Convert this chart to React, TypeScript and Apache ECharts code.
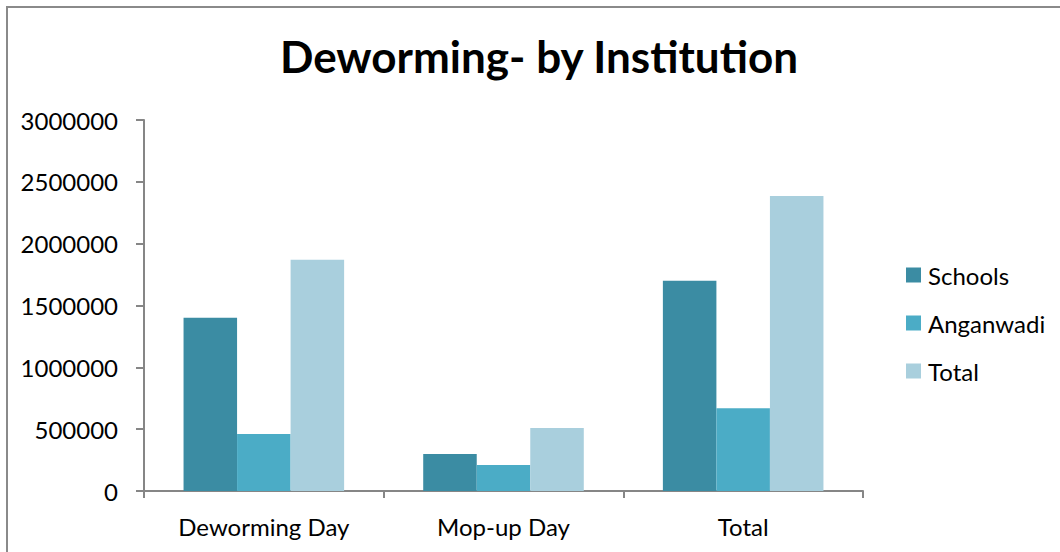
import React, { useEffect, useRef } from "react";
import * as echarts from "echarts";

const categories = ["Deworming Day", "Mop-up Day", "Total"];
const seriesNames = ["Schools", "Anganwadi", "Total"];
const schools = [1400000, 300000, 1700000];
const anganwadi = [460000, 210000, 670000];
const total = [1870000, 510000, 2385000];
const colors = ["#3B8CA3", "#4BACC6", "#A9CFDD"];

const FONT = "Lato";

export default function App() {
  const ref = useRef<HTMLDivElement>(null);
  useEffect(() => {
    if (!ref.current) return;
    const chart = echarts.init(ref.current, null, { renderer: "svg" });
    const values = [schools, anganwadi, total];
    chart.setOption({
      animation: false,
      backgroundColor: "#ffffff",
      textStyle: { fontFamily: FONT },
      title: {
        text: "Deworming- by Institution",
        left: 280,
        top: 34,
        padding: 0,
        textStyle: { fontFamily: FONT, fontSize: 44, fontWeight: "bold", color: "#000" },
      },
      graphic: [
        {
          type: "rect",
          shape: { x: 7, y: 7, width: 1100, height: 600 },
          style: { fill: "none", stroke: "#8a8a8a", lineWidth: 2 },
          silent: true,
        },
      ],
      legend: {
        orient: "vertical",
        left: 906,
        top: 263,
        padding: 0,
        itemWidth: 15,
        itemHeight: 15,
        itemGap: 24,
        icon: "rect",
        data: seriesNames,
        textStyle: { fontFamily: FONT, fontSize: 24, color: "#000", padding: [0, 0, 0, 2] },
      },
      grid: { left: 144, right: 197, top: 120, bottom: 61, containLabel: false },
      xAxis: {
        type: "category",
        data: categories,
        axisLine: { show: true, lineStyle: { color: "#868686", width: 2 } },
        axisTick: { show: true, length: 7, lineStyle: { color: "#868686", width: 2 } },
        axisLabel: { fontFamily: FONT, fontSize: 24, color: "#000", margin: 23 },
        splitLine: { show: false },
      },
      yAxis: {
        type: "value",
        min: 0,
        max: 3000000,
        interval: 500000,
        axisLine: { show: true, lineStyle: { color: "#868686", width: 2 } },
        axisTick: { show: true, length: 8, lineStyle: { color: "#868686", width: 2 } },
        axisLabel: {
          fontFamily: FONT,
          fontSize: 24,
          color: "#000",
          margin: 26,
          formatter: (v: number) => String(v),
        },
        splitLine: { show: false },
      },
      series: seriesNames.map((name, i) => ({
        name,
        type: "bar",
        data: values[i],
        barGap: "0%",
        barCategoryGap: "33%",
        itemStyle: { color: colors[i] },
      })),
    });
    return () => chart.dispose();
  }, []);
  return (
    <div
      ref={ref}
      style={{ position: "fixed", left: 0, top: 0, width: 1060, height: 552 }}
    />
  );
}
